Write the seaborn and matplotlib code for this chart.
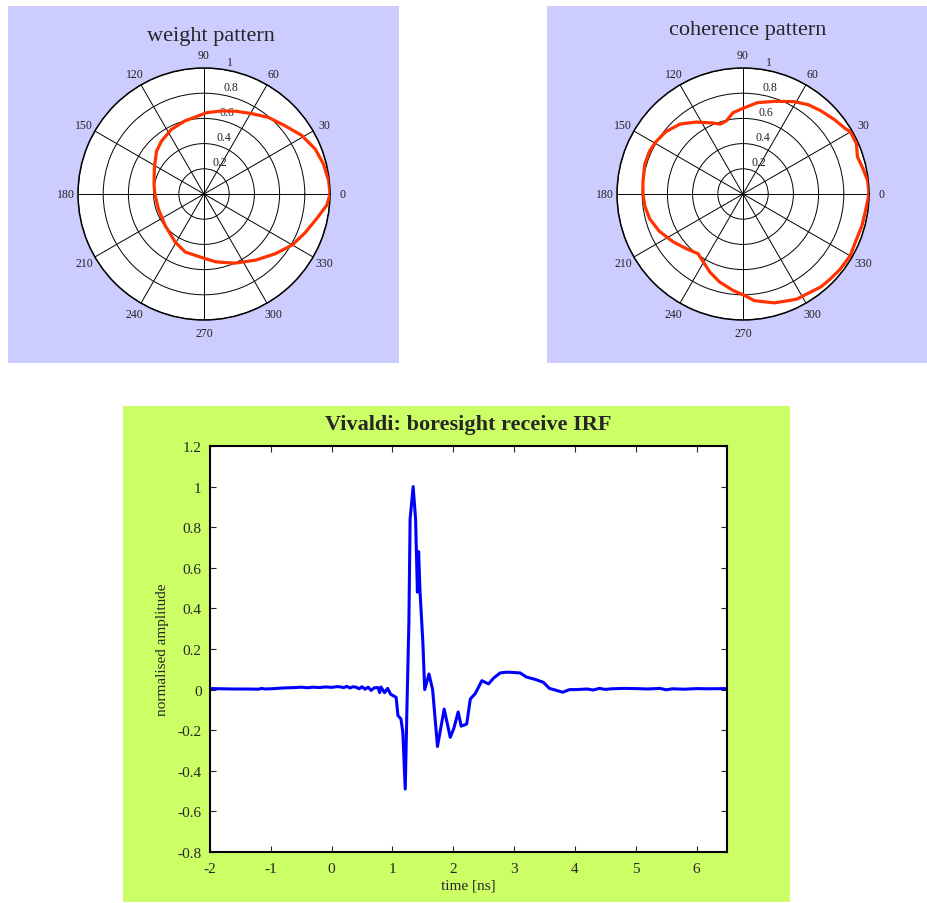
import numpy as np
import pandas as pd
import matplotlib
matplotlib.use('Agg')
import matplotlib.pyplot as plt
from matplotlib.patches import Rectangle
import seaborn as sns

sns.set_style('ticks')
plt.rcParams['font.family'] = ['Liberation Serif', 'DejaVu Serif']
plt.rcParams['axes.unicode_minus'] = False

# weight pattern (angle in degrees, normalised radius)
weight_deg = [0, 6, 14, 22, 31, 40, 50, 59, 69, 78, 88, 105, 117, 129, 138, 152,
              169, 180, 198, 219, 239, 252, 271, 280, 294, 308, 320, 330, 339, 348, 355, 360]
weight_r = [1.0, 0.995, 0.978, 0.952, 0.904, 0.841, 0.794, 0.743, 0.704, 0.674, 0.646,
            0.599, 0.574, 0.538, 0.507, 0.446, 0.404, 0.39, 0.381, 0.397, 0.445, 0.484,
            0.513, 0.547, 0.601, 0.666, 0.738, 0.809, 0.859, 0.918, 0.980, 1.0]

# coherence pattern
coh_deg = [0, 6, 12, 18, 24, 30, 33, 39, 47, 54, 61, 71, 81, 89, 97, 103, 108, 113, 123,
           132, 141, 149, 155, 163, 173, 180, 187, 195, 204, 214, 224, 233, 240, 247, 255,
           264, 271, 276, 286, 292, 297, 303, 310, 316, 322, 330, 337, 345, 352, 360]
coh_r = [1.0, 0.995, 0.973, 0.955, 0.985, 0.985, 0.961, 0.936, 0.904, 0.877, 0.838, 0.778,
         0.734, 0.685, 0.650, 0.594, 0.583, 0.612, 0.681, 0.747, 0.787, 0.806, 0.816, 0.815,
         0.80, 0.794, 0.785, 0.766, 0.727, 0.674, 0.625, 0.593, 0.626, 0.673, 0.722, 0.769,
         0.806, 0.851, 0.899, 0.916, 0.937, 0.942, 0.962, 0.967, 0.975, 0.982, 0.970, 0.977,
         0.981, 1.0]

# boresight receive impulse response
time_ns = [-2.0, -1.8, -1.6, -1.4, -1.2, -1.15, -1.1, -1.0, -0.8, -0.6, -0.5, -0.4, -0.3,
           -0.2, -0.1, 0.0, 0.1, 0.2, 0.25, 0.3, 0.35, 0.4, 0.45, 0.5, 0.55, 0.6, 0.65,
           0.7, 0.76, 0.79, 0.81, 0.87, 0.92, 0.97, 1.06, 1.09, 1.14, 1.17, 1.21, 1.24,
           1.27, 1.29, 1.34, 1.38, 1.41, 1.43, 1.45, 1.50, 1.53, 1.60, 1.66, 1.74, 1.85,
           1.95, 2.01, 2.08, 2.13, 2.22, 2.28, 2.36, 2.47, 2.58, 2.66, 2.77, 2.88, 3.0,
           3.10, 3.20, 3.35, 3.48, 3.58, 3.80, 3.91, 4.02, 4.2, 4.3, 4.4, 4.5, 4.6, 4.8,
           5.0, 5.2, 5.4, 5.5, 5.6, 5.8, 6.0, 6.2, 6.5]
amplitude = [0.005, 0.004, 0.003, 0.003, 0.002, 0.006, 0.003, 0.004, 0.008, 0.010, 0.012,
             0.009, 0.012, 0.010, 0.013, 0.011, 0.015, 0.010, 0.016, 0.008, 0.014, 0.012,
             0.004, 0.014, 0.002, 0.012, -0.004, 0.009, 0.010, -0.015, 0.013, -0.015, 0.006,
             -0.023, -0.038, -0.128, -0.145, -0.21, -0.49, -0.06, 0.33, 0.84, 1.0, 0.84,
             0.48, 0.68, 0.50, 0.23, 0.0, 0.077, 0.0, -0.28, -0.096, -0.235, -0.19, -0.11,
             -0.18, -0.17, -0.046, -0.02, 0.044, 0.028, 0.056, 0.082, 0.086, 0.084, 0.082,
             0.062, 0.050, 0.036, 0.006, -0.013, 0.0, 0.0, 0.003, -0.002, 0.006, 0.001,
             0.004, 0.006, 0.005, 0.003, 0.006, -0.001, 0.004, 0.002, 0.005, 0.004, 0.005]

theta_labels = [str(a) for a in range(0, 360, 30)]
r_ticks = [0.2, 0.4, 0.6, 0.8, 1.0]
r_labels = ['0.2', '0.4', '0.6', '0.8', '1']
x_ticks = [-2, -1, 0, 1, 2, 3, 4, 5, 6]
y_ticks = [-0.8, -0.6, -0.4, -0.2, 0, 0.2, 0.4, 0.6, 0.8, 1, 1.2]
y_labels = ['-0.8', '-0.6', '-0.4', '-0.2', '0', '0.2', '0.4', '0.6', '0.8', '1', '1.2']

W, H = 927, 904
fig = plt.figure(figsize=(W / 100, H / 100), dpi=100)
fig.patch.set_facecolor('white')


def box(x0, y0, x1, y1):
    # pixel box -> figure fraction rect
    return [x0 / W, 1 - y1 / H, (x1 - x0) / W, (y1 - y0) / H]


def panel(x0, y0, x1, y1, color):
    l, b, w, h = box(x0, y0, x1, y1)
    fig.add_artist(Rectangle((l, b), w, h, transform=fig.transFigure,
                             facecolor=color, edgecolor='none', zorder=-5))


panel(8, 7, 399, 364, '#ccccff')
panel(547, 7, 927, 364, '#ccccff')
panel(123, 407, 790, 903, '#ccff66')


def polar_plot(rect, deg, r, title, title_xy):
    ax = fig.add_axes(rect, projection='polar')
    ax.set_facecolor('white')
    df = pd.DataFrame({'theta': np.radians(deg), 'r': r})
    sns.lineplot(data=df, x='theta', y='r', ax=ax, sort=False, estimator=None,
                 color='#ff3300', linewidth=2.3, zorder=5)
    ax.set_ylim(0, 1)
    ax.set_yticks(r_ticks)
    ax.set_yticklabels([])
    ax.set_xticks(np.radians(np.arange(0, 360, 30)))
    ax.set_xticklabels([])
    ax.set_xlabel('')
    ax.set_ylabel('')
    ax.grid(True, color='black', linewidth=0.7)
    ax.spines['polar'].set_linewidth(1.1)
    ax.spines['polar'].set_color('black')
    for a, lab in zip(range(0, 360, 30), theta_labels):
        ax.text(np.radians(a), 1.1, lab, ha='center', va='center', fontsize=8.5,
                color='#222222', clip_on=False)
    for rv, lab in zip(r_ticks, r_labels):
        ax.annotate(lab, (np.radians(82), rv + 0.01), xytext=(3.5, 0),
                    textcoords='offset points', ha='left', va='bottom',
                    fontsize=8.5, color='#222222', annotation_clip=False)
    fig.text(title_xy[0] / W, 1 - title_xy[1] / H, title, ha='center', va='center',
             fontsize=16)
    return ax


polar_plot(box(78, 69, 330, 321), weight_deg, weight_r, 'weight pattern', (211, 36))
polar_plot(box(617, 69, 869, 321), coh_deg, coh_r, 'coherence pattern', (748, 30))

ax = fig.add_axes(box(210, 447, 727, 853))
ax.set_facecolor('white')
irf = pd.DataFrame({'time': time_ns, 'amp': amplitude})
sns.lineplot(data=irf, x='time', y='amp', ax=ax, sort=False, estimator=None,
             color='#0000ff', linewidth=2.2)
ax.set_xlim(-2, 6.5)
ax.set_ylim(-0.8, 1.2)
ax.set_xticks(x_ticks)
ax.set_xticklabels([str(t) for t in x_ticks])
ax.set_yticks(y_ticks)
ax.set_yticklabels(y_labels)
ax.tick_params(direction='in', top=True, right=True, length=4, width=0.8,
               labelsize=11)
ax.tick_params(axis='x', pad=7)
ax.tick_params(axis='y', pad=6)
for s in ax.spines.values():
    s.set_linewidth(1.5)
    s.set_color('black')
ax.set_xlabel('time [ns]', fontsize=11, labelpad=3)
ax.set_ylabel('normalised amplitude', fontsize=11, labelpad=6)
fig.text(468 / W, 1 - 425 / H, 'Vivaldi: boresight receive IRF', ha='center',
         va='center', fontsize=16, fontweight='bold')

fig.savefig('out.png', dpi=100)
